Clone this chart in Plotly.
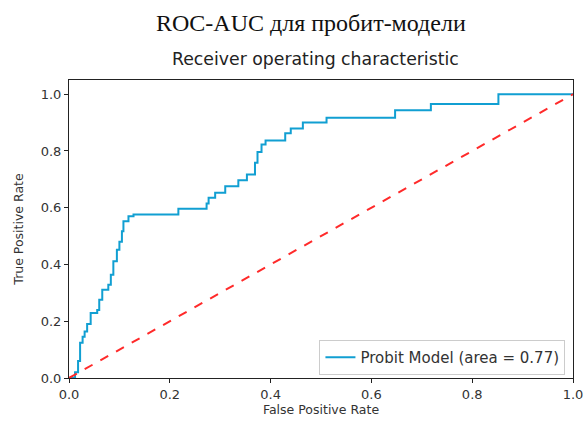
import plotly.graph_objects as go

fpr = [0, 0.012, 0.016, 0.018, 0.022, 0.027, 0.031, 0.036, 0.043, 0.056, 0.06, 0.066,
       0.078, 0.083, 0.088, 0.095, 0.1, 0.105, 0.108, 0.118, 0.128, 0.217, 0.273, 0.277,
       0.29, 0.31, 0.336, 0.353, 0.369, 0.374, 0.382, 0.39, 0.429, 0.44, 0.464, 0.511,
       0.647, 0.718, 0.852, 1.0]
tpr = [0, 0.02, 0.02, 0.06, 0.124, 0.145, 0.164, 0.19, 0.229, 0.24, 0.276, 0.311,
       0.329, 0.364, 0.411, 0.452, 0.48, 0.517, 0.552, 0.57, 0.576, 0.596, 0.615, 0.635,
       0.653, 0.676, 0.697, 0.717, 0.758, 0.796, 0.823, 0.837, 0.862, 0.879, 0.9, 0.917,
       0.943, 0.965, 1.0, 1.0]
diag = [0, 1]
auc_label = "Probit Model (area = 0.77)"
tick_vals = [0.0, 0.2, 0.4, 0.6, 0.8, 1.0]
tick_text = ["0.0", "0.2", "0.4", "0.6", "0.8", "1.0"]

fig = go.Figure()
fig.add_trace(go.Scatter(x=fpr, y=tpr, mode="lines", line_shape="hv",
                         line=dict(color="#119fd2", width=2), name=auc_label))
fig.add_trace(go.Scatter(x=diag, y=diag, mode="lines", showlegend=False,
                         line=dict(color="#ff2a2a", width=2, dash="dash")))

axis_common = dict(showgrid=False, zeroline=False, showline=True, mirror=True,
                   linecolor="#222", linewidth=1, ticks="outside", ticklen=4,
                   tickcolor="#222", tickvals=tick_vals, ticktext=tick_text,
                   automargin=False, ticklabeloverflow="allow",
                   tickfont=dict(family="DejaVu Sans", size=13, color="#333"))

fig.update_layout(
    width=583, height=421,
    margin=dict(l=69, r=10, t=80, b=43),
    paper_bgcolor="white", plot_bgcolor="white",
    font=dict(family="DejaVu Sans", size=12, color="#333"),
    xaxis=dict(range=[0, 1], title=dict(text="False Positive Rate", standoff=2,
               font=dict(size=12.5, color="#333")), **axis_common),
    yaxis=dict(range=[0, 1.05], title=dict(text="True Positive Rate", standoff=14,
               font=dict(size=12.5, color="#333")), **axis_common),
    legend=dict(x=0.985, y=0.01, xanchor="right", yanchor="bottom",
                bordercolor="#ccc", borderwidth=1, bgcolor="white",
                font=dict(family="DejaVu Sans", size=15, color="#333")),
    annotations=[
        dict(text="ROC-AUC для пробит-модели", xref="paper", yref="paper",
             x=0.48, y=1.19, xanchor="center", yanchor="middle", showarrow=False,
             font=dict(family="Liberation Serif", size=24, color="#111")),
        dict(text="Receiver operating characteristic", xref="paper", yref="paper",
             x=0.489, y=1.072, xanchor="center", yanchor="middle", showarrow=False,
             font=dict(family="DejaVu Sans", size=17.3, color="#222")),
    ],
)

fig.write_html("out.html", config={"displayModeBar": False},
               post_script="document.body.style.margin='0px';document.body.style.overflow='hidden';")
